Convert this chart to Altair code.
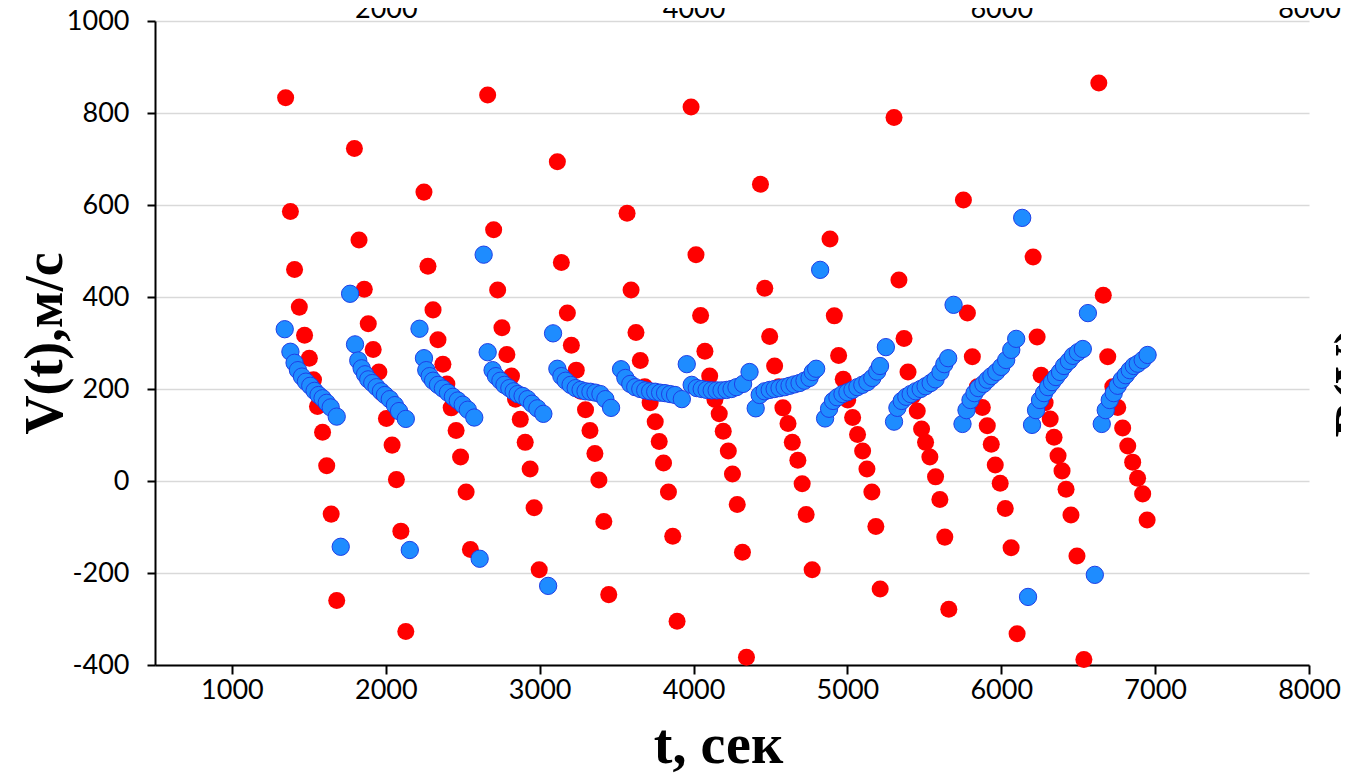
import altair as alt
import pandas as pd

# ---- data (t in seconds, V in m/s) ----
red_t = [
    1349, 1380, 1407, 1438, 1472, 1503, 1530, 1556, 1589, 1616, 1645, 1681,
    1796, 1826, 1860, 1886, 1918, 1955, 1980, 2004, 2041, 2069, 2098, 2130,
    2248, 2274, 2307, 2339, 2371, 2397, 2425, 2457, 2486, 2522, 2550,
    2662, 2701, 2727, 2755, 2787, 2817, 2843, 2874, 2906, 2938, 2964, 2997,
    3115, 3141, 3180, 3206, 3238, 3267, 3298, 3327, 3359, 3385, 3417, 3449,
    3568, 3594, 3626, 3654, 3683, 3718, 3751, 3777, 3805, 3837, 3865, 3893,
    3984, 4016, 4046, 4074, 4105, 4139, 4167, 4193, 4226, 4253, 4284, 4318, 4344,
    4435, 4463, 4495, 4527, 4554, 4581, 4614, 4642, 4678, 4706, 4732, 4771,
    4887, 4915, 4943, 4973, 5002, 5034, 5066, 5099, 5127, 5159, 5185, 5213,
    5303, 5335, 5368, 5394, 5424, 5454, 5482, 5508, 5536, 5573, 5601, 5633, 5659,
    5754, 5780, 5812, 5845, 5877, 5909, 5935, 5961, 5993, 6026, 6064, 6103,
    6207, 6233, 6259, 6285, 6318, 6343, 6369, 6395, 6421, 6453, 6492, 6537,
    6634, 6663, 6692, 6725, 6757, 6789, 6822, 6854, 6886, 6919, 6948,
]
red_v = [
    833, 586, 460, 378, 317, 267, 220, 162, 106, 33, -72, -260,
    723, 524, 417, 342, 286, 237, 190, 136, 78, 3, -109, -327,
    628, 467, 372, 307, 254, 211, 159, 110, 52, -24, -149,
    839, 546, 415, 333, 275, 228, 178, 134, 84, 26, -58, -193,
    694, 475, 365, 295, 241, 195, 155, 110, 60, 2, -88, -247,
    582, 415, 323, 262, 205, 170, 129, 86, 39, -24, -120, -305,
    813, 492, 360, 282, 228, 177, 146, 108, 65, 15, -51, -155, -383,
    645, 419, 314, 250, 205, 159, 125, 84, 45, -6, -73, -193,
    526, 359, 273, 221, 176, 138, 101, 65, 26, -24, -99, -235,
    790, 437, 310, 237, 185, 152, 113, 84, 52, 9, -40, -122, -279,
    611, 365, 270, 205, 160, 120, 80, 35, -5, -60, -145, -332,
    487, 313, 230, 170, 135, 95, 55, 22, -18, -74, -163, -388,
    865, 404, 270, 205, 160, 115, 76, 41, 6, -28, -85,
]

blue_t = [
    1343, 1380, 1407, 1429, 1455, 1481, 1509, 1537, 1563, 1589, 1616, 1642, 1681, 1707,
    1768, 1800, 1821, 1843, 1865, 1886, 1912, 1940, 1968, 1994, 2026, 2059, 2086, 2130, 2156,
    2219, 2248, 2263, 2285, 2307, 2339, 2371, 2404, 2436, 2468, 2500, 2533, 2575, 2610,
    2636, 2662, 2694, 2716, 2745, 2771, 2803, 2831, 2857, 2889, 2921, 2950, 2985, 3024, 3055,
    3087, 3115, 3141, 3169, 3201, 3234, 3266, 3298, 3330, 3363, 3395, 3427, 3464,
    3529, 3557, 3589, 3621, 3654, 3686, 3718, 3751, 3783, 3815, 3848, 3880, 3924,
    3956, 3988, 4021, 4053, 4085, 4118, 4150, 4182, 4215, 4247, 4279, 4322, 4364,
    4404, 4430, 4462, 4495, 4527, 4559, 4592, 4624, 4656, 4689, 4721, 4754, 4775, 4797, 4823,
    4855, 4881, 4907, 4935, 4968, 5000, 5033, 5065, 5097, 5130, 5162, 5194, 5212, 5250,
    5303, 5325, 5353, 5383, 5411, 5444, 5476, 5508, 5541, 5573, 5605, 5630, 5655, 5690,
    5748, 5774, 5800, 5826, 5851, 5884, 5910, 5936, 5968, 6000, 6032, 6065, 6097, 6136, 6174,
    6200, 6226, 6252, 6278, 6304, 6330, 6356, 6382, 6408, 6440, 6466, 6498, 6530, 6563, 6608,
    6653, 6679, 6705, 6731, 6757, 6783, 6809, 6835, 6861, 6887, 6919, 6951,
]
blue_v = [
    330, 281, 257, 241, 227, 216, 207, 196, 187, 180, 170, 160, 140, -143,
    407, 297, 262, 245, 232, 221, 213, 204, 195, 187, 178, 165, 152, 135, -150,
    331, 267, 241, 228, 218, 209, 201, 192, 183, 175, 166, 155, 138, -169,
    492, 280, 241, 228, 218, 209, 202, 195, 189, 185, 178, 168, 158, 146, -228,
    321, 244, 228, 218, 209, 202, 198, 195, 194, 192, 189, 178, 159,
    243, 224, 211, 204, 200, 197, 195, 194, 192, 191, 189, 187, 178,
    254, 209, 202, 200, 198, 197, 197, 197, 198, 200, 204, 211, 237,
    158, 187, 195, 198, 200, 202, 204, 207, 210, 213, 218, 224, 237, 244, 459,
    136, 157, 174, 182, 189, 193, 198, 204, 209, 215, 224, 238, 250, 291,
    129, 159, 174, 183, 189, 195, 200, 206, 213, 221, 237, 254, 267, 383,
    124, 154, 176, 191, 202, 211, 220, 228, 237, 248, 263, 285, 309, 572, -252,
    122, 154, 176, 191, 204, 215, 226, 237, 250, 261, 272, 280, 287, 365, -204,
    124, 154, 176, 191, 207, 220, 230, 241, 250, 255, 263, 274,
]

x_ticks_bottom = [1000, 2000, 3000, 4000, 5000, 6000, 7000, 8000]
x_ticks_top = [2000, 4000, 6000, 8000]
y_ticks = [-400, -200, 0, 200, 400, 600, 800, 1000]
right_title = ["B(V)"]

red_df = pd.DataFrame({"t": red_t, "v": red_v})
blue_df = pd.DataFrame({"t": blue_t, "v": blue_v})
txt_df = pd.DataFrame({"label": right_title})

LABEL_FONT = "Lato"
TITLE_FONT = "Liberation Serif"
PLOT_W = 1154
PLOT_H = 644

x_scale = alt.Scale(domain=[500, 8000], nice=False, zero=False)
y_scale = alt.Scale(domain=[-400, 1000], nice=False, zero=False)

x_bottom = alt.Axis(
    orient="bottom", values=x_ticks_bottom, labelExpr="'' + datum.value",
    grid=False, domainColor="black", domainWidth=2,
    tickColor="black", tickWidth=2, tickSize=9,
    labelFont=LABEL_FONT, labelFontSize=27, labelColor="black",
    labelPadding=3, labelFlush=False, labelOverlap=False,
    title="t, сек", titleFont=TITLE_FONT, titleFontWeight="bold",
    titleFontSize=56, titleColor="black",
    titleX=563, titleY=97, titleAlign="center", titleBaseline="alphabetic",
)
y_left = alt.Axis(
    orient="left", values=y_ticks, labelExpr="'' + datum.value",
    grid=True, gridColor="#d9d9d9", gridWidth=1.5,
    domainColor="black", domainWidth=2,
    tickColor="black", tickWidth=2, tickSize=8,
    labelFont=LABEL_FONT, labelFontSize=27, labelColor="black",
    labelPadding=18, labelFlush=False, labelOverlap=False,
    title="V(t),м/с", titleFont=TITLE_FONT, titleFontWeight="bold",
    titleFontSize=54, titleColor="black", titleAngle=270,
    titleX=-137, titleY=322, titleAlign="center", titleBaseline="top",
)
x_top = alt.Axis(
    orient="top", values=x_ticks_top, labelExpr="'' + datum.value",
    grid=False, domain=False, ticks=False, tickSize=0,
    labelFont=LABEL_FONT, labelFontSize=27, labelColor="black",
    labelPadding=4, labelFlush=False, labelOverlap=False,
    labelBaseline="alphabetic", title="",
)

red = alt.Chart(red_df).mark_circle(color="#ff0000", opacity=1, size=290).encode(
    x=alt.X("t:Q", scale=x_scale, axis=x_bottom),
    y=alt.Y("v:Q", scale=y_scale, axis=y_left),
)
blue = alt.Chart(blue_df).mark_circle(
    fill="#1e8cff", stroke="#1f3fe6", strokeWidth=1, opacity=1, size=300
).encode(
    x=alt.X("t:Q", scale=x_scale, axis=x_top),
    y=alt.Y("v:Q", scale=y_scale),
)
btext = alt.Chart(txt_df).mark_text(
    angle=270, align="center", baseline="top", font=TITLE_FONT,
    fontWeight="bold", fontSize=54, color="black",
).encode(
    text="label:N", x=alt.value(PLOT_W + 20), y=alt.value(361),
)

chart = (
    alt.layer(red, blue, btext)
    .resolve_axis(x="independent")
    .properties(
        width=PLOT_W, height=PLOT_H,
        autosize=alt.AutoSizeParams(type="none"),
        padding={"left": 147, "top": 13, "right": 32, "bottom": 108},
        background="white",
    )
    .configure_view(strokeWidth=0)
)

chart.save("out.html", embed_options={"renderer": "svg", "actions": False})
